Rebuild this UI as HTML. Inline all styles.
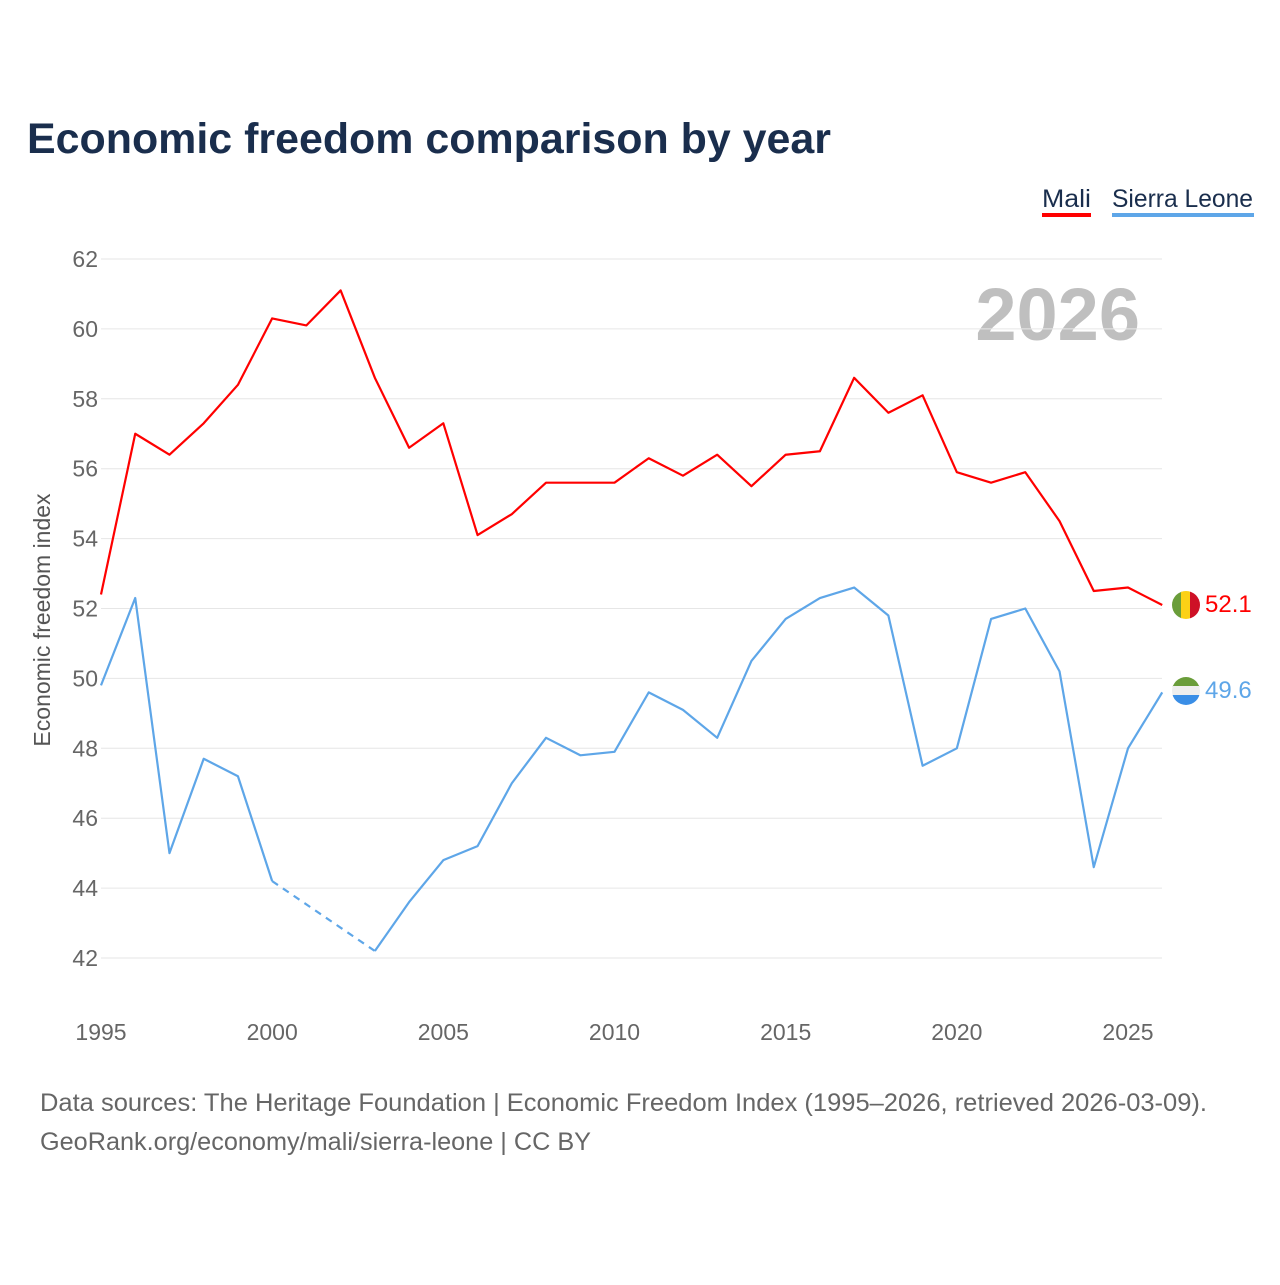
<!DOCTYPE html>
<html><head><meta charset="utf-8"><style>
body{margin:0;background:#fff;font-family:"Liberation Sans",sans-serif;}
</style></head><body>
<svg id="chart" width="1280" height="1280" xmlns="http://www.w3.org/2000/svg">
<defs>
<clipPath id="c1"><circle cx="1186" cy="605" r="14"/></clipPath>
<clipPath id="c2"><circle cx="1186" cy="691" r="14"/></clipPath>
</defs>
<text x="27" y="153" font-size="43" font-weight="bold" fill="#1a2e4d" textLength="804" lengthAdjust="spacingAndGlyphs">Economic freedom comparison by year</text>
<g><text x="1042" y="207" font-size="25" fill="#1a2e4d" textLength="49" lengthAdjust="spacingAndGlyphs">Mali</text><rect x="1042" y="213" width="49" height="4" fill="#ff0000"/></g>
<g><text x="1112" y="207" font-size="25" fill="#1a2e4d" textLength="141" lengthAdjust="spacingAndGlyphs">Sierra Leone</text><rect x="1112" y="213" width="142" height="4" fill="#5ea6e8"/></g>
<text x="1140" y="340" font-size="74" font-weight="bold" fill="#bfbfbf" text-anchor="end">2026</text>
<g id="grid"></g><g id="axes"></g><g id="series"></g>
<text transform="translate(50,620) rotate(-90)" font-size="23" fill="#555" text-anchor="middle">Economic freedom index</text>
<text x="40" y="1111" font-size="25" fill="#666" textLength="1167" lengthAdjust="spacingAndGlyphs">Data sources: The Heritage Foundation | Economic Freedom Index (1995–2026, retrieved 2026-03-09).</text>
<text x="40" y="1150" font-size="25" fill="#666" textLength="551" lengthAdjust="spacingAndGlyphs">GeoRank.org/economy/mali/sierra-leone | CC BY</text>
<g clip-path="url(#c1)"><rect x="1172" y="591" width="10" height="28" fill="#6a9d3a"/><rect x="1181" y="591" width="10" height="28" fill="#fcd116"/><rect x="1190" y="591" width="10" height="28" fill="#ce1126"/></g>
<g clip-path="url(#c2)"><rect x="1172" y="677" width="28" height="10" fill="#6a9d3a"/><rect x="1172" y="686" width="28" height="10" fill="#eee"/><rect x="1172" y="695" width="28" height="10" fill="#3a8ee6"/></g>
<text x="1205" y="612" font-size="24" fill="#ff0000">52.1</text>
<text x="1205" y="698" font-size="24" fill="#5ea6e8">49.6</text>
</svg>
<script>
const years=[];for(let y=1995;y<=2026;y++)years.push(y);
const mali=[52.4,57.0,56.4,57.3,58.4,60.3,60.1,61.1,58.6,56.6,57.3,54.1,54.7,55.6,55.6,55.6,56.3,55.8,56.4,55.5,56.4,56.5,58.6,57.6,58.1,55.9,55.6,55.9,54.5,52.5,52.6,52.1];
const sierra=[49.8,52.3,45.0,47.7,47.2,44.2,null,null,42.2,43.6,44.8,45.2,47.0,48.3,47.8,47.9,49.6,49.1,48.3,50.5,51.7,52.3,52.6,51.8,47.5,48.0,51.7,52.0,50.2,44.6,48.0,49.6];
const yTicks=[42,44,46,48,50,52,54,56,58,60,62];
const xTicks=[1995,2000,2005,2010,2015,2020,2025];
const NS='http://www.w3.org/2000/svg';
const x=v=>101+(v-1995)*(1027/30);
const y=v=>958-(v-42)*(699/20);
function mk(t,a,p){const e=document.createElementNS(NS,t);for(const k in a)e.setAttribute(k,a[k]);p.appendChild(e);return e;}
const grid=document.getElementById('grid'),axes=document.getElementById('axes'),ser=document.getElementById('series');
yTicks.forEach(t=>{const l=mk('line',{x1:101,x2:1162,y1:y(t),y2:y(t),stroke:'#e6e6e6','stroke-width':1},grid);


const tx=mk('text',{x:98,y:y(t)+8,'font-size':23,fill:'#666','text-anchor':'end'},axes);tx.textContent=t;

});
xTicks.forEach(t=>{const tx=mk('text',{x:x(t),y:1040,'font-size':23,fill:'#666','text-anchor':'middle'},axes);tx.textContent=t;

});
function draw(vals,color,name){
let d='',pen=false;
vals.forEach((v,i)=>{if(v==null){pen=false;return;}d+=(pen?'L':'M')+x(years[i])+','+y(v);pen=true;});
const p=mk('path',{d:d,fill:'none',stroke:color,'stroke-width':2.2,'stroke-linejoin':'round'},ser);


for(let i=0;i<vals.length;i++){if(vals[i]!=null&&vals[i+1]==null&&i+1<vals.length){let j=i+1;while(j<vals.length&&vals[j]==null)j++;if(j<vals.length){
const g=mk('line',{x1:x(years[i]),y1:y(vals[i]),x2:x(years[j]),y2:y(vals[j]),stroke:color,'stroke-width':2.2,'stroke-dasharray':'7,6'},ser);

}}}
}
draw(mali,'#ff0000','mali');
draw(sierra,'#5ea6e8','sierra-leone');
</script>
</body></html>
